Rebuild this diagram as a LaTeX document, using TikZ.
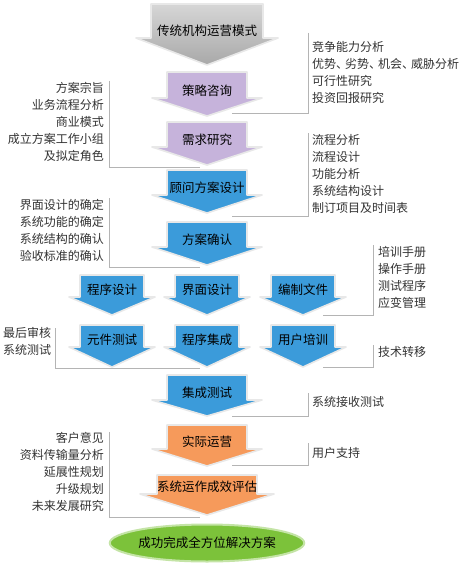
\documentclass[tikz,border=0pt]{standalone}
\usepackage{fontspec}
\setmainfont{Noto Sans CJK SC}
\usepackage{tikz}
\usetikzlibrary{shapes.geometric}
\definecolor{lilac}{HTML}{C6B3DB}
\definecolor{skyblue}{HTML}{3B9BDA}
\definecolor{apricot}{HTML}{F69A5B}
\definecolor{leafgreen}{HTML}{7CC23A}
\definecolor{notegray}{HTML}{333333}
\definecolor{linegray}{HTML}{B4B4B4}

\tikzset{
  arrowtext/.style={inner sep=0pt, font=\fontsize{12.5pt}{14pt}\selectfont, text=black},
  sidenote/.style={inner sep=0pt, font=\fontsize{12pt}{17pt}\selectfont, text=notegray},
  bracket/.style={draw=linegray, line width=0.8pt},
  glow/.style={draw=black!9, line width=1.6pt, line join=round},
  oldgray/.style={top color=black!16, bottom color=black!34}
}

% block arrow pointing down: name, fill options, centre x, top, head start, tip, body half, head half, text
\newcommand{\flowarrow}[9]{%
  \filldraw[glow, #2] (#3-#7,#4) -- (#3+#7,#4) -- (#3+#7,#5) -- (#3+#8,#5)
    -- (#3,#6) -- (#3-#8,#5) -- (#3-#7,#5) -- cycle;
  \coordinate (#1-tip) at (#3,#6);
  \node[arrowtext] (#1) at (#3,#5-7) {#9};
}

\begin{document}
\begin{tikzpicture}[x=1pt, y=-1pt]
    \useasboundingbox[fill=white] (0,0) rectangle (463,567);

    % main flow
    \flowarrow{trad}{oldgray}{207}{4}{38}{65}{56}{71}{传统机构运营模式}
    \flowarrow{strat}{fill=lilac}{207}{72}{98}{116}{40}{55}{策略咨询}
    \flowarrow{req}{fill=lilac}{207}{122}{147}{165}{40}{55}{需求研究}
    \flowarrow{consult}{fill=skyblue}{207}{170}{195}{213}{40}{55}{顾问方案设计}
    \flowarrow{confirm}{fill=skyblue}{207}{222}{247}{265}{40}{55}{方案确认}
    \flowarrow{prog}{fill=skyblue}{112}{275}{297}{315}{32}{43}{程序设计}
    \flowarrow{ui}{fill=skyblue}{207}{275}{297}{315}{32}{43}{界面设计}
    \flowarrow{docs}{fill=skyblue}{303}{275}{297}{315}{32}{43}{编制文件}
    \flowarrow{unit}{fill=skyblue}{112}{325}{347}{367}{32}{43}{元件测试}
    \flowarrow{integ}{fill=skyblue}{207}{325}{347}{367}{32}{43}{程序集成}
    \flowarrow{train}{fill=skyblue}{303}{325}{347}{367}{32}{43}{用户培训}
    \flowarrow{systest}{fill=skyblue}{207}{375}{400}{416}{40}{55}{集成测试}
    \flowarrow{operate}{fill=apricot}{207}{425}{449}{466}{40}{55}{实际运营}
    \flowarrow{evaluate}{fill=apricot}{207}{475}{494}{515}{50}{67}{系统运作成效评估}
    \node[ellipse, minimum width=139pt, minimum height=37pt, fill=leafgreen,
          draw=leafgreen!45, line width=2pt, arrowtext] (goal) at (207,543) {成功完成全方位解决方案};

    % notes beside the flow
    \node[sidenote, align=left, anchor=north west] (compNotes) at (312,41)
        {竞争能力分析\\优势、\kern-3pt劣势、\kern-3pt机会、\kern-3pt威胁分析\\可行性研究\\投资回报研究};
    \node[sidenote, align=right, anchor=north east] (planNotes) at (104,82)
        {方案宗旨\\业务流程分析\\商业模式\\成立方案工作小组\\及拟定角色};
    \node[sidenote, align=left, anchor=north west] (flowNotes) at (312,134)
        {流程分析\\流程设计\\功能分析\\系统结构设计\\制订项目及时间表};
    \node[sidenote, align=right, anchor=north east] (confirmNotes) at (104,199)
        {界面设计的确定\\系统功能的确定\\系统结构的确认\\验收标准的确认};
    \node[sidenote, align=left, anchor=north west] (manualNotes) at (378,246)
        {培训手册\\操作手册\\测试程序\\应变管理};
    \node[sidenote, align=left, anchor=north west] (reviewNotes) at (3,327)
        {最后审核\\系统测试};
    \node[sidenote, anchor=north west] (transferNotes) at (378,346) {技术转移};
    \node[sidenote, anchor=north west] (acceptNotes) at (312,396) {系统接收测试};
    \node[sidenote, anchor=north west] (supportNotes) at (312,447) {用户支持};
    \node[sidenote, align=right, anchor=north east] (futureNotes) at (104,432)
        {客户意见\\资料传输量分析\\延展性规划\\升级规划\\未来发展研究};

    % brackets
    \draw[bracket] ([xshift=-4pt,yshift=8pt]compNotes.north west) |- ([xshift=25pt,yshift=3pt]strat-tip);
    \draw[bracket] ([xshift=5pt,yshift=1pt]planNotes.north east) |- ([xshift=-7pt,yshift=-2pt]req-tip);
    \draw[bracket] ([xshift=-4pt,yshift=1pt]flowNotes.north west) |- ([xshift=25pt,yshift=-3pt]consult-tip);
    \draw[bracket] ([xshift=5pt,yshift=1pt]confirmNotes.north east) |- ([xshift=-7pt,yshift=-2pt]confirm-tip);
    \draw[bracket] ([xshift=-5pt,yshift=1pt]manualNotes.north west) |- ([xshift=20pt]docs-tip);
    \draw[bracket] ([xshift=4pt,yshift=-1pt]reviewNotes.north east) |- ([xshift=-7pt,yshift=-1pt]integ-tip);
    \draw[bracket] ([xshift=-5pt,yshift=1pt]transferNotes.north west) |- ([xshift=20pt]train-tip);
    \draw[bracket] ([xshift=-4pt,yshift=3pt]acceptNotes.north west) |- ([xshift=25pt]systest-tip);
    \draw[bracket] ([xshift=-4pt,yshift=4pt]supportNotes.north west) |- ([xshift=25pt,yshift=1pt]operate-tip);
    \draw[bracket] ([xshift=5pt]futureNotes.north east) |- ([xshift=-7pt,yshift=-2pt]evaluate-tip);
\end{tikzpicture}
\end{document}
